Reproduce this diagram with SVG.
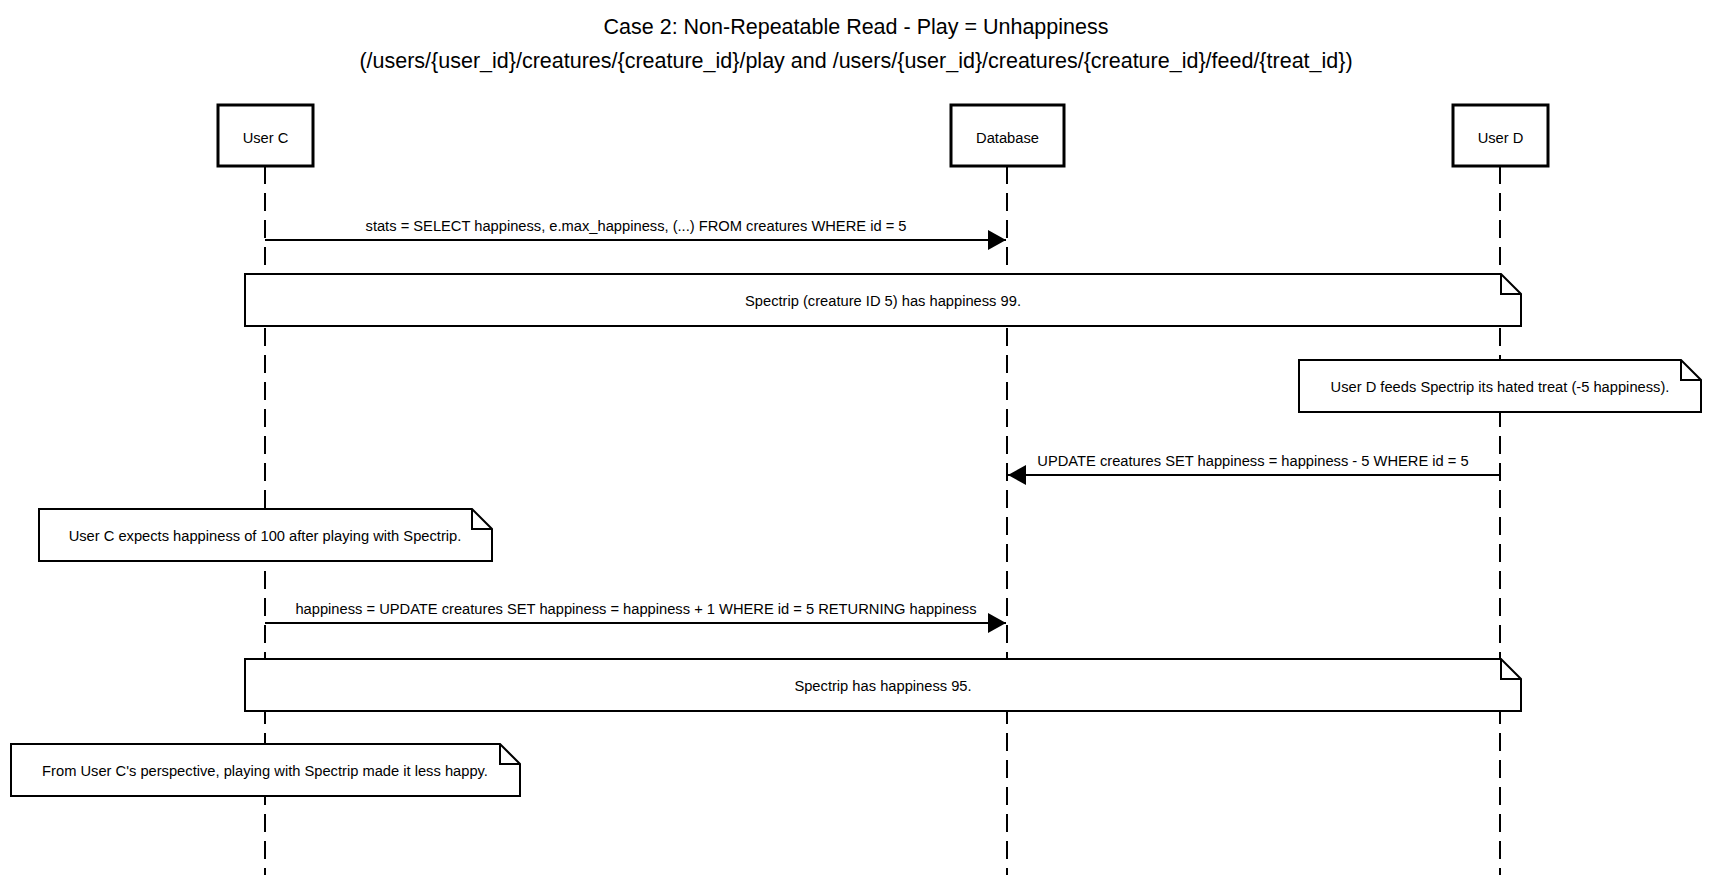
<svg xmlns="http://www.w3.org/2000/svg" width="1712" height="875" viewBox="0 0 1712 875">
<defs>
<style>
text{font-family:"Liberation Sans",Arial,sans-serif;fill:#000;}
.title{font-size:21.5px;text-anchor:middle;}
.plabel{font-size:14.7px;text-anchor:middle;}
.mlabel{font-size:14.7px;text-anchor:middle;}
.ntext{font-size:14.7px;text-anchor:middle;}
.pbox{fill:#fff;stroke:#000;stroke-width:3;}
.life{stroke:#000;stroke-width:2;stroke-dasharray:18,9;fill:none;}
.msg{stroke:#000;stroke-width:2;fill:none;}
.note{fill:#fff;stroke:#000;stroke-width:2;stroke-linejoin:miter;}
.fold{fill:none;stroke:#000;stroke-width:2;}
</style>
<marker id="arrow" viewBox="0 0 18 20" refX="18" refY="10" markerWidth="18" markerHeight="20" markerUnits="userSpaceOnUse" orient="auto">
<path d="M0,0 L18,10 L0,20 Z" fill="#000"/>
</marker>
</defs>
<rect width="1712" height="875" fill="#fff"/>
<g id="title">
<text class="title" x="856" y="34">Case 2: Non-Repeatable Read - Play = Unhappiness</text>
<text class="title" x="856" y="68">(/users/{user_id}/creatures/{creature_id}/play and /users/{user_id}/creatures/{creature_id}/feed/{treat_id})</text>
</g>
<g id="lifelines">
<line class="life" x1="265" y1="166" x2="265" y2="875"/>
<line class="life" x1="1007" y1="166" x2="1007" y2="875"/>
<line class="life" x1="1500" y1="166" x2="1500" y2="875"/>
</g>
<g id="userC">
<rect class="pbox" x="218" y="105" width="95" height="61"/>
<text class="plabel" x="265.5" y="143">User C</text>
</g>
<g id="database">
<rect class="pbox" x="951" y="105" width="113" height="61"/>
<text class="plabel" x="1007.5" y="143">Database</text>
</g>
<g id="userD">
<rect class="pbox" x="1453" y="105" width="95" height="61"/>
<text class="plabel" x="1500.5" y="143">User D</text>
</g>
<g id="connectors">
<line class="msg" x1="265" y1="240" x2="1006" y2="240" marker-end="url(#arrow)"/>
<text class="mlabel" x="636" y="231">stats = SELECT happiness, e.max_happiness, (...) FROM creatures WHERE id = 5</text>
<line class="msg" x1="1500" y1="475" x2="1008" y2="475" marker-end="url(#arrow)"/>
<text class="mlabel" x="1253" y="466">UPDATE creatures SET happiness = happiness - 5 WHERE id = 5</text>
<line class="msg" x1="265" y1="623" x2="1006" y2="623" marker-end="url(#arrow)"/>
<text class="mlabel" x="636" y="614">happiness = UPDATE creatures SET happiness = happiness + 1 WHERE id = 5 RETURNING happiness</text>
</g>
<g id="note1">
<path class="note" d="M245,274 H1501 L1521,294 V326 H245 Z"/>
<path class="fold" d="M1501,274 V294 H1521"/>
<text class="ntext" x="883" y="306">Spectrip (creature ID 5) has happiness 99.</text>
</g>
<g id="note2">
<path class="note" d="M1299,360 H1681 L1701,380 V412 H1299 Z"/>
<path class="fold" d="M1681,360 V380 H1701"/>
<text class="ntext" x="1500" y="392">User D feeds Spectrip its hated treat (-5 happiness).</text>
</g>
<g id="note3">
<path class="note" d="M39,509 H472 L492,529 V561 H39 Z"/>
<path class="fold" d="M472,509 V529 H492"/>
<text class="ntext" x="265" y="541">User C expects happiness of 100 after playing with Spectrip.</text>
</g>
<g id="note4">
<path class="note" d="M245,659 H1501 L1521,679 V711 H245 Z"/>
<path class="fold" d="M1501,659 V679 H1521"/>
<text class="ntext" x="883" y="691">Spectrip has happiness 95.</text>
</g>
<g id="note5">
<path class="note" d="M11,744 H500 L520,764 V796 H11 Z"/>
<path class="fold" d="M500,744 V764 H520"/>
<text class="ntext" x="265" y="776">From User C's perspective, playing with Spectrip made it less happy.</text>
</g>
</svg>
